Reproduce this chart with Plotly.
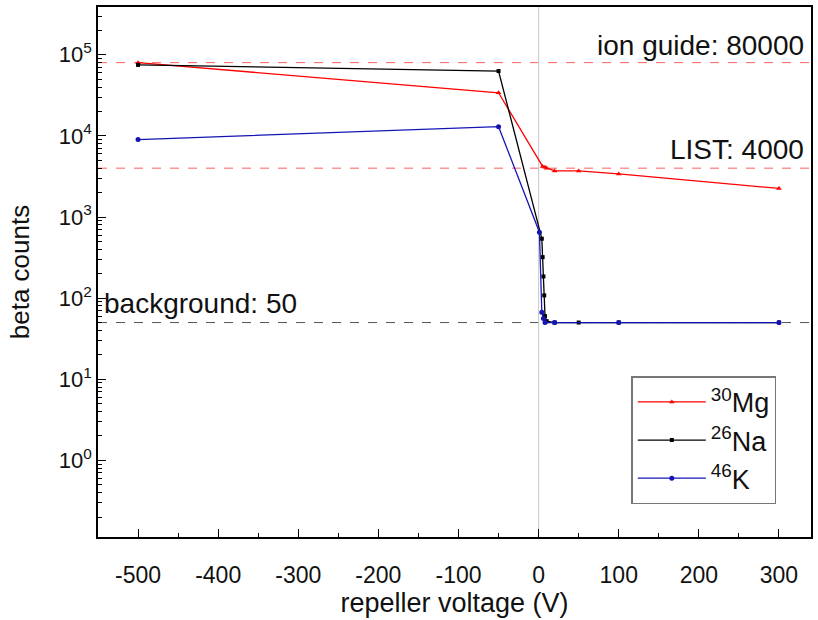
import math
import plotly.graph_objects as go

# ---- data ----
mg_x = [-500, -50, 5, 8, 10, 20, 50, 100, 300]
mg_y = [80000, 34000, 4200, 4100, 4000, 3700, 3700, 3400, 2250]

na_x = [-500, -50, 4, 5, 6, 7, 8, 10, 20, 50, 100, 300]
na_y = [75000, 63000, 540, 320, 185, 108, 60, 52, 50, 50, 50, 50]

k_x = [-500, -50, 1, 4, 6, 8, 20, 100, 300]
k_y = [9000, 13000, 650, 67, 56, 50, 50, 50, 50]

ref_levels = [80000, 4000, 50]
ref_labels = ["ion guide: 80000", "LIST: 4000", "background: 50"]

x_ticks = [-500, -400, -300, -200, -100, 0, 100, 200, 300]
x_ticktext = ["-500", "-400", "-300", "-200", "-100", "0", "100", "200", "300"]
y_tickvals = [1, 10, 100, 1000, 10000, 100000]
y_ticktext = ["10<sup>0</sup>", "10<sup>1</sup>", "10<sup>2</sup>",
              "10<sup>3</sup>", "10<sup>4</sup>", "10<sup>5</sup>"]
y_minor = [m * 10 ** e for e in range(-1, 6) for m in range(2, 10)]

FONT = "Liberation Sans, Arial, sans-serif"

fig = go.Figure()
fig.add_trace(go.Scatter(x=mg_x, y=mg_y, mode="lines+markers", name="<sup>30</sup>Mg",
                         line=dict(color="#ff0000", width=1.3),
                         marker=dict(symbol="triangle-up", size=5, color="#ff0000")))
fig.add_trace(go.Scatter(x=na_x, y=na_y, mode="lines+markers", name="<sup>26</sup>Na",
                         line=dict(color="#000000", width=1.3),
                         marker=dict(symbol="square", size=4, color="#000000")))
fig.add_trace(go.Scatter(x=k_x, y=k_y, mode="lines+markers", name="<sup>46</sup>K",
                         line=dict(color="#1414b4", width=1.3),
                         marker=dict(symbol="circle", size=5, color="#1414b4")))

shapes = []
for lvl, col in zip(ref_levels, ["#ff6060", "#ff6060", "#555555"]):
    shapes.append(dict(type="line", xref="paper", x0=0, x1=1, yref="y", y0=lvl, y1=lvl,
                       line=dict(color=col, width=1, dash="dash"), layer="below"))
shapes.append(dict(type="line", xref="x", x0=0, x1=0, yref="paper", y0=0, y1=1,
                   line=dict(color="#c8c8c8", width=1), layer="below"))

ann_font = dict(size=28, color="#111111", family=FONT)
annotations = [
    dict(x=0.993, y=math.log10(ref_levels[0]), xref="paper", yref="y", text=ref_labels[0],
         showarrow=False, xanchor="right", yanchor="bottom", yshift=0, font=ann_font),
    dict(x=0.993, y=math.log10(ref_levels[1]), xref="paper", yref="y", text=ref_labels[1],
         showarrow=False, xanchor="right", yanchor="bottom", yshift=1, font=ann_font),
    dict(x=0.005, y=math.log10(ref_levels[2]), xref="paper", yref="y", text=ref_labels[2],
         showarrow=False, xanchor="left", yanchor="bottom", yshift=2, font=ann_font),
]

fig.update_layout(
    width=818, height=620,
    margin=dict(l=98, r=5, t=5, b=83),
    paper_bgcolor="white", plot_bgcolor="white",
    font=dict(family=FONT, color="#111111"),
    shapes=shapes, annotations=annotations,
    showlegend=True,
    legend=dict(x=0.748, y=0.303, xanchor="left", yanchor="top",
                bordercolor="#777777", borderwidth=1.5, bgcolor="white",
                font=dict(size=27, family=FONT), itemwidth=68, tracegroupgap=0),
)
fig.update_xaxes(
    range=[-550, 340], tickvals=x_ticks, ticktext=x_ticktext, ticks="inside", ticklen=8,
    tickwidth=1.3, tickcolor="black", showline=True, linecolor="black", linewidth=1.5,
    mirror=True, showgrid=False, zeroline=False, tickfont=dict(size=23, family=FONT),
    ticklabelstandoff=17,
    minor=dict(dtick=50, ticks="inside", ticklen=4, tickcolor="black", tickwidth=1.2),
    title=dict(text="repeller voltage (V)", font=dict(size=27, family=FONT), standoff=6),
)
fig.update_yaxes(
    type="log", range=[-0.945, 5.589], tickvals=y_tickvals, ticktext=y_ticktext,
    ticks="inside", ticklen=8, tickwidth=1.3, tickcolor="black",
    showline=True, linecolor="black", linewidth=1.5, mirror=True,
    showgrid=False, zeroline=False, tickfont=dict(size=22, family=FONT),
    minor=dict(tickvals=y_minor, ticks="inside", ticklen=4, tickcolor="black", tickwidth=1),
    title=dict(text="beta counts", font=dict(size=26, family=FONT), standoff=22),
)

fig.write_html("out.html")
